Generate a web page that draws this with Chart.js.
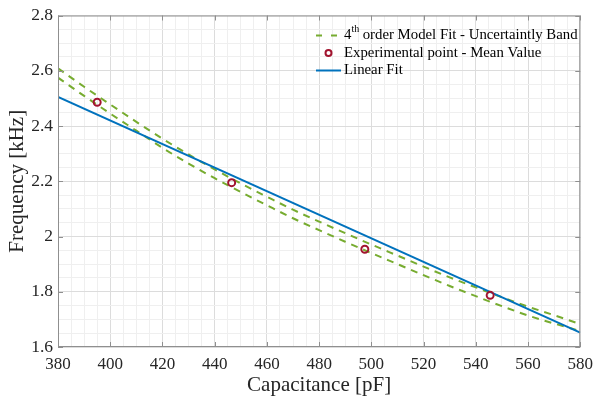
<!DOCTYPE html>
<html>
<head>
<meta charset="utf-8">
<script src="https://cdn.jsdelivr.net/npm/chart.js@4.4.1/dist/chart.umd.min.js"></script>
<style>
  body { margin: 0; background: #fff; }
  canvas { display: block; }
</style>
</head>
<body>
<canvas id="freqChart" width="600" height="398"></canvas>
<script>
// capacitance grid for the model band [pF]
const capacitance = [380, 390, 400, 410, 420, 430, 440, 450, 460, 470, 480,
                     490, 500, 510, 520, 530, 540, 550, 560, 570, 580];
// 4th order model fit, upper / lower edge of the uncertainty band [kHz]
const bandUpper = [2.609, 2.542, 2.478, 2.415, 2.354, 2.297, 2.243, 2.192, 2.144, 2.097, 2.054,
                   2.012, 1.971, 1.931, 1.891, 1.852, 1.816, 1.780, 1.746, 1.715, 1.683];
const bandLower = [2.575, 2.509, 2.445, 2.383, 2.321, 2.264, 2.211, 2.161, 2.113, 2.066, 2.023,
                   1.981, 1.940, 1.900, 1.860, 1.821, 1.784, 1.748, 1.714, 1.685, 1.658];
// experimental mean values
const expCap = [395, 446.5, 497.5, 545.5];
const expFreq = [2.486, 2.195, 1.954, 1.787];
// linear fit end points
const fitCap = [380, 580];
const fitFreq = [2.505, 1.652];

const xTickLabels = ['380', '400', '420', '440', '460', '480', '500', '520', '540', '560', '580'];
const yTickLabels = ['1.6', '1.8', '2', '2.2', '2.4', '2.6', '2.8'];

const legendLabels = ['order Model Fit - Uncertaintly Band', 'Experimental point - Mean Value', 'Linear Fit'];

const serif = "'Liberation Serif', 'Times New Roman', serif";
const green = '#77AC30';
const blue = '#0072BD';
const red = '#A2142F';

const toPoints = (xs, ys) => xs.map((x, i) => ({ x: x, y: ys[i] }));
const fmt = v => String(+v.toFixed(2));
const isMajorX = v => xTickLabels.includes(fmt(v));
const isMajorY = v => yTickLabels.includes(fmt(v));

// box round the plot with inward ticks on all four sides (matlab style)
const boxPlugin = {
    id: 'boxTicks',
    afterDatasetsDraw(chart) {
        const { ctx, chartArea: a, scales } = chart;
        ctx.save();
        ctx.strokeStyle = '#8f8f8f';
        ctx.lineWidth = 1;
        ctx.strokeRect(a.left + 0.5, a.top + 0.5, a.right - a.left - 1, a.bottom - a.top - 1);
        ctx.beginPath();
        xTickLabels.forEach(t => {
            const x = Math.round(scales.x.getPixelForValue(+t)) + 0.5;
            ctx.moveTo(x, a.bottom); ctx.lineTo(x, a.bottom - 5);
            ctx.moveTo(x, a.top); ctx.lineTo(x, a.top + 5);
        });
        yTickLabels.forEach(t => {
            const y = Math.round(scales.y.getPixelForValue(+t)) + 0.5;
            ctx.moveTo(a.left, y); ctx.lineTo(a.left + 5, y);
            ctx.moveTo(a.right, y); ctx.lineTo(a.right - 5, y);
        });
        ctx.stroke();
        ctx.restore();
    }
};

// legend drawn inside the axes, no frame
const legendPlugin = {
    id: 'insideLegend',
    afterDraw(chart) {
        const ctx = chart.ctx;
        const x0 = 316, x1 = 341, tx = 344;
        const rows = [35.5, 53, 70.5];
        const font = '14.8px ' + serif;
        ctx.save();
        ctx.textBaseline = 'middle';
        ctx.fillStyle = '#000';

        // row 1: dashed sample + superscript
        ctx.strokeStyle = green;
        ctx.lineWidth = 2;
        ctx.beginPath();
        ctx.moveTo(x0, rows[0]); ctx.lineTo(x0 + 6, rows[0]);
        ctx.moveTo(x0 + 15, rows[0]); ctx.lineTo(x0 + 21, rows[0]);
        ctx.stroke();
        ctx.font = font;
        ctx.fillText('4', tx, rows[0]);
        let w = ctx.measureText('4').width;
        ctx.font = '10px ' + serif;
        ctx.fillText('th', tx + w, rows[0] - 6);
        w += ctx.measureText('th').width + 3.5;
        ctx.font = font;
        ctx.fillText(legendLabels[0], tx + w, rows[0]);

        // row 2: circle marker
        ctx.strokeStyle = red;
        ctx.lineWidth = 2;
        ctx.beginPath();
        ctx.arc((x0 + x1) / 2, rows[1], 3, 0, Math.PI * 2);
        ctx.stroke();
        ctx.fillText(legendLabels[1], tx, rows[1]);

        // row 3: solid line
        ctx.strokeStyle = blue;
        ctx.beginPath();
        ctx.moveTo(x0, rows[2]); ctx.lineTo(x1, rows[2]);
        ctx.stroke();
        ctx.fillText(legendLabels[2], tx, rows[2]);
        ctx.restore();
    }
};

const bandStyle = {
    type: 'line',
    borderColor: green,
    borderWidth: 2,
    borderDash: [7, 6],
    pointRadius: 0,
    fill: false,
    cubicInterpolationMode: 'monotone',
    order: 3
};

new Chart(document.getElementById('freqChart'), {
    type: 'scatter',
    data: {
        datasets: [
            { ...bandStyle, label: 'band upper', data: toPoints(capacitance, bandUpper) },
            { ...bandStyle, label: 'band lower', data: toPoints(capacitance, bandLower) },
            {
                label: 'Experimental point - Mean Value',
                data: toPoints(expCap, expFreq),
                pointStyle: 'circle',
                pointRadius: 3.5,
                pointBorderWidth: 2,
                borderColor: red,
                backgroundColor: 'rgba(0,0,0,0)',
                order: 1
            },
            {
                type: 'line',
                label: 'Linear Fit',
                data: toPoints(fitCap, fitFreq),
                borderColor: blue,
                borderWidth: 2,
                pointRadius: 0,
                fill: false,
                order: 2
            }
        ]
    },
    options: {
        responsive: false,
        devicePixelRatio: 1,
        animation: false,
        layout: { padding: { top: 14, right: 13, left: 0, bottom: 0 } },
        plugins: {
            legend: { display: false },
            tooltip: { enabled: false }
        },
        scales: {
            x: {
                type: 'linear',
                min: 380,
                max: 580,
                afterFit(scale) { scale.height = 51; },
                afterBuildTicks(scale) {
                    scale.ticks = [];
                    for (let v = 380; v <= 580; v += 5) scale.ticks.push({ value: v });
                },
                border: { display: false },
                grid: {
                    drawTicks: false,
                    color: c => isMajorX(c.tick.value) ? '#dcdcdc' : '#efefef',
                    lineWidth: 1
                },
                ticks: {
                    autoSkip: false,
                    maxRotation: 0,
                    padding: 7,
                    color: '#262626',
                    font: { family: serif, size: 17 },
                    callback: v => isMajorX(v) ? fmt(v) : ''
                },
                title: {
                    display: true,
                    text: 'Capacitance [pF]',
                    color: '#262626',
                    font: { family: serif, size: 21 },
                    padding: { top: 0, bottom: 0 }
                }
            },
            y: {
                type: 'linear',
                min: 1.6,
                max: 2.8,
                afterFit(scale) { scale.width = 58; },
                afterBuildTicks(scale) {
                    scale.ticks = [];
                    for (let i = 0; i <= 24; i++) scale.ticks.push({ value: +(1.6 + i * 0.05).toFixed(2) });
                },
                border: { display: false },
                grid: {
                    drawTicks: false,
                    color: c => isMajorY(c.tick.value) ? '#dcdcdc' : '#efefef',
                    lineWidth: 1
                },
                ticks: {
                    autoSkip: false,
                    padding: 5,
                    color: '#262626',
                    font: { family: serif, size: 17.5 },
                    callback: v => isMajorY(v) ? fmt(v) : ''
                },
                title: {
                    display: true,
                    text: 'Frequency [kHz]',
                    color: '#262626',
                    font: { family: serif, size: 21 },
                    padding: { top: 5, bottom: 0 }
                }
            }
        }
    },
    plugins: [boxPlugin, legendPlugin]
});
</script>
</body>
</html>
